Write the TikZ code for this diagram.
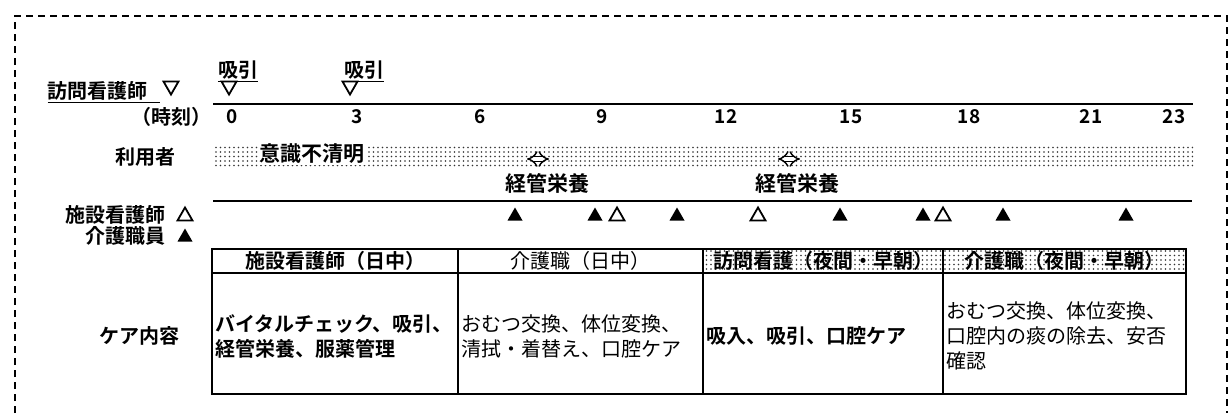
\documentclass[tikz,border=0pt]{standalone}
\usepackage{fontspec}
\setmainfont{Noto Sans CJK JP}[BoldFont={Noto Sans CJK JP Bold}]
\usetikzlibrary{patterns.meta,arrows.meta}
\begin{document}
\begin{tikzpicture}[x=1pt,y=-1pt,
  lbl/.style={font=\fontsize{20}{22}\selectfont\bfseries, inner sep=0pt},
  big/.style={font=\fontsize{21}{23}\selectfont\bfseries, inner sep=0pt},
  num/.style={font=\fontsize{19}{20}\selectfont\bfseries, inner sep=0pt},
  body/.style={font=\fontsize{20}{25}\selectfont, align=left, anchor=west, inner sep=0pt},
  bbody/.style={body, font=\fontsize{20}{25}\selectfont\bfseries},
  hdr/.style={font=\fontsize{20}{22}\selectfont, inner sep=0pt},
  bhdr/.style={hdr, font=\fontsize{20}{22}\selectfont\bfseries},
  dotfill/.style={pattern={Dots[distance=4.5pt,radius=0.8pt]}, pattern color=black!80},
  tline/.style={line width=2pt},
  tri/.style={line width=1.8pt, line join=miter},
  uptri/.pic={\path[pic actions] (-7.5,6.5) -- (7.5,6.5) -- (0,-6.5) -- cycle;},
  dntri/.pic={\path[pic actions] (-7.5,-6.5) -- (7.5,-6.5) -- (0,6.5) -- cycle;},
  feed/.style={line width=1.4pt, double distance=4pt, {Implies}-{Implies}}
]
\useasboundingbox (0,0) rectangle (1231,413);
% dashed frame
\draw[line width=2.2pt, dash pattern=on 7pt off 5pt] (15,413) -- (15,16) -- (1227,16) -- (1227,413);

% visiting nurse row
\node[lbl, anchor=east] (vn) at (148,91) {訪問看護師};
\draw[line width=1.4pt] ([yshift=-2pt]vn.south west) -- ([yshift=-2pt,xshift=12pt]vn.south east);
\pic[draw, tri] at (171,88) {dntri};
\node[lbl] (s1) at (238,70) {吸引};
\draw[line width=1.4pt] ([yshift=-2pt]s1.south west) -- ([yshift=-2pt]s1.south east);
\pic[draw, tri] at (229,88) {dntri};
\node[lbl] (s2) at (364,70) {吸引};
\draw[line width=1.4pt] ([yshift=-2pt]s2.south west) -- ([yshift=-2pt]s2.south east);
\pic[draw, tri] at (350,88) {dntri};

% time axis
\coordinate (axL) at (213,104);
\coordinate (axR) at (1193,104);
\draw[tline] (axL) -- (axR);
\node[lbl, anchor=east] (jk) at (212,117) {（時刻）};
\foreach \t/\x in {0/232,3/357,6/480,9/602,12/726,15/851,18/969,21/1091,23/1174}
  \node[num] (t\t) at (\x,117) {\t};

% user row
\node[lbl, anchor=east] (user) at (176,157) {利用者};
\fill[dotfill] (213,144) rectangle (1193,166);
\node[big, fill=white, inner sep=1pt] (ishiki) at (312,154) {意識不清明};
\draw[feed] (527,159) -- (549,159);
\node[big] (kk1) at (547,183) {経管栄養};
\draw[feed] (778,159) -- (800,159);
\node[big] (kk2) at (797,183) {経管栄養};

% staff row
\coordinate (slL) at (213,201);
\coordinate (slR) at (1192,201);
\draw[tline] (slL) -- (slR);
\node[lbl, anchor=east] (ns) at (166,215) {施設看護師};
\pic[draw, tri] at (185,214) {uptri};
\node[lbl, anchor=east] (cw) at (166,236) {介護職員};
\pic[fill=black] at (185,235) {uptri};
\foreach \x in {515,595,677,840,923,1003,1126}
  \pic[fill=black] at (\x,214) {uptri};
\foreach \x in {617,758,943}
  \pic[draw, tri] at (\x,214) {uptri};

% care table
\node[lbl, anchor=east] (care) at (180,336) {ケア内容};
\fill[dotfill] (703,249) rectangle (1186,273);
\draw[line width=2pt] (212,249) rectangle (1186,394);
\draw[line width=1.6pt] (212,273) -- (1186,273);
\foreach \x in {458,703,943} \draw[line width=1.6pt] (\x,249) -- (\x,394);
\node[bhdr] (h1) at (335,261) {施設看護師（日中）};
\node[hdr] (h2) at (580,261) {介護職（日中）};
\node[bhdr] (h3) at (823,261) {訪問看護（夜間・早朝）};
\node[bhdr] (h4) at (1064,261) {介護職（夜間・早朝）};
\node[bbody] (b1) at (215,336) {バイタルチェック、吸引、\\経管栄養、服薬管理};
\node[body] (b2) at (461,336) {おむつ交換、体位変換、\\清拭・着替え、口腔ケア};
\node[bbody] (b3) at (706,336) {吸入、吸引、口腔ケア};
\node[body] (b4) at (946,336) {おむつ交換、体位変換、\\口腔内の痰の除去、安否\\確認};
\end{tikzpicture}
\end{document}
